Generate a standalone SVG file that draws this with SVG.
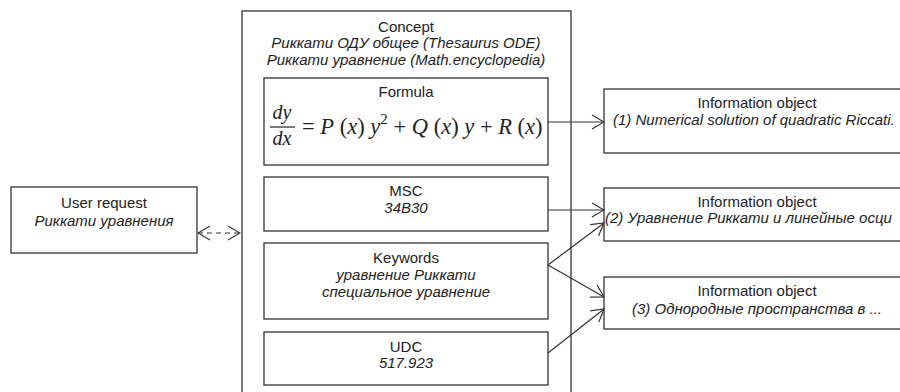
<svg xmlns="http://www.w3.org/2000/svg" width="900" height="392" viewBox="0 0 900 392">
<style>
.box{fill:#fff;stroke:#333;stroke-width:1.3}
.t{font-family:"Liberation Sans",Arial,sans-serif;font-size:15px;fill:#222;text-anchor:middle}
.s{text-anchor:start}
.i{font-style:italic}
.m{font-family:"Liberation Serif","Times New Roman",serif;font-size:22.5px;fill:#222}
.f{font-size:20px}
.mi{font-style:italic}
.c{fill:none;stroke:#333;stroke-width:1.2}
</style>
<defs>
<marker id="ah" viewBox="0 0 14 16" refX="13" refY="8" markerWidth="14" markerHeight="16" markerUnits="userSpaceOnUse" orient="auto">
<path d="M1,1 L13,8 L1,15" fill="none" stroke="#333" stroke-width="1.2"/>
</marker>
<marker id="ahs" viewBox="0 0 14 16" refX="1" refY="8" markerWidth="14" markerHeight="16" markerUnits="userSpaceOnUse" orient="auto">
<path d="M13,1 L1,8 L13,15" fill="none" stroke="#333" stroke-width="1.2"/>
</marker>
</defs>
<rect width="900" height="392" fill="#fff"/>
<g id="user-request">
<rect class="box" x="11" y="187" width="186" height="66"/>
<text class="t" x="104" y="208">User request</text>
<text class="t i" x="104" y="226">Риккати уравнения</text>
</g>
<g id="concept">
<rect class="box" x="242" y="11" width="329" height="395"/>
<text class="t" x="406" y="32">Concept</text>
<text class="t i" x="406" y="48">Риккати ОДУ общее (Thesaurus ODE)</text>
<text class="t i" x="406" y="65">Риккати уравнение (Math.encyclopedia)</text>
</g>
<g id="formula">
<rect class="box" x="264" y="78" width="284" height="87"/>
<text class="t" x="406" y="97">Formula</text>
<text class="m mi f" x="282" y="119" text-anchor="middle">dy</text>
<line x1="270" y1="127" x2="295" y2="127" stroke="#222" stroke-width="1.2"/>
<text class="m mi f" x="282" y="145" text-anchor="middle">dx</text>
<text class="m" x="302" y="134">= <tspan class="mi">P</tspan> (<tspan class="mi">x</tspan>) <tspan class="mi">y</tspan><tspan font-size="15" dy="-10">2</tspan><tspan dy="10"> + </tspan><tspan class="mi">Q</tspan> (<tspan class="mi">x</tspan>) <tspan class="mi">y</tspan> + <tspan class="mi">R</tspan> (<tspan class="mi">x</tspan>)</text>
</g>
<g id="msc">
<rect class="box" x="264" y="177" width="284" height="54"/>
<text class="t" x="406" y="196">MSC</text>
<text class="t i" x="406" y="213">34B30</text>
</g>
<g id="keywords">
<rect class="box" x="264" y="243" width="284" height="76"/>
<text class="t" x="406" y="263">Keywords</text>
<text class="t i" x="406" y="280">уравнение Риккати</text>
<text class="t i" x="406" y="297">специальное уравнение</text>
</g>
<g id="udc">
<rect class="box" x="264" y="332" width="284" height="53"/>
<text class="t" x="406" y="352">UDC</text>
<text class="t i" x="406" y="368">517.923</text>
</g>
<g id="info1">
<rect class="box" x="604" y="89" width="310" height="64"/>
<text class="t" x="757" y="108">Information object</text>
<text class="t i s" x="613" y="125">(1) Numerical solution of quadratic Riccati.</text>
</g>
<g id="info2">
<rect class="box" x="604" y="188" width="310" height="53"/>
<text class="t" x="757" y="207">Information object</text>
<text class="t i s" x="605" y="223">(2) Уравнение Риккати и линейные осци</text>
</g>
<g id="info3">
<rect class="box" x="604" y="277" width="310" height="52"/>
<text class="t" x="757" y="296">Information object</text>
<text class="t i" x="757" y="314">(3) Однородные пространства в ...</text>
</g>
<g id="connectors">
<line class="c" x1="198" y1="233" x2="240" y2="233" stroke-dasharray="5,4" marker-start="url(#ahs)" marker-end="url(#ah)"/>
<line class="c" x1="548" y1="122" x2="604" y2="122" marker-end="url(#ah)"/>
<line class="c" x1="548" y1="210" x2="604" y2="210" marker-end="url(#ah)"/>
<line class="c" x1="548" y1="265" x2="604" y2="223" marker-end="url(#ah)"/>
<line class="c" x1="548" y1="265" x2="604" y2="297" marker-end="url(#ah)"/>
<line class="c" x1="548" y1="353" x2="604" y2="309" marker-end="url(#ah)"/>
</g>
</svg>
